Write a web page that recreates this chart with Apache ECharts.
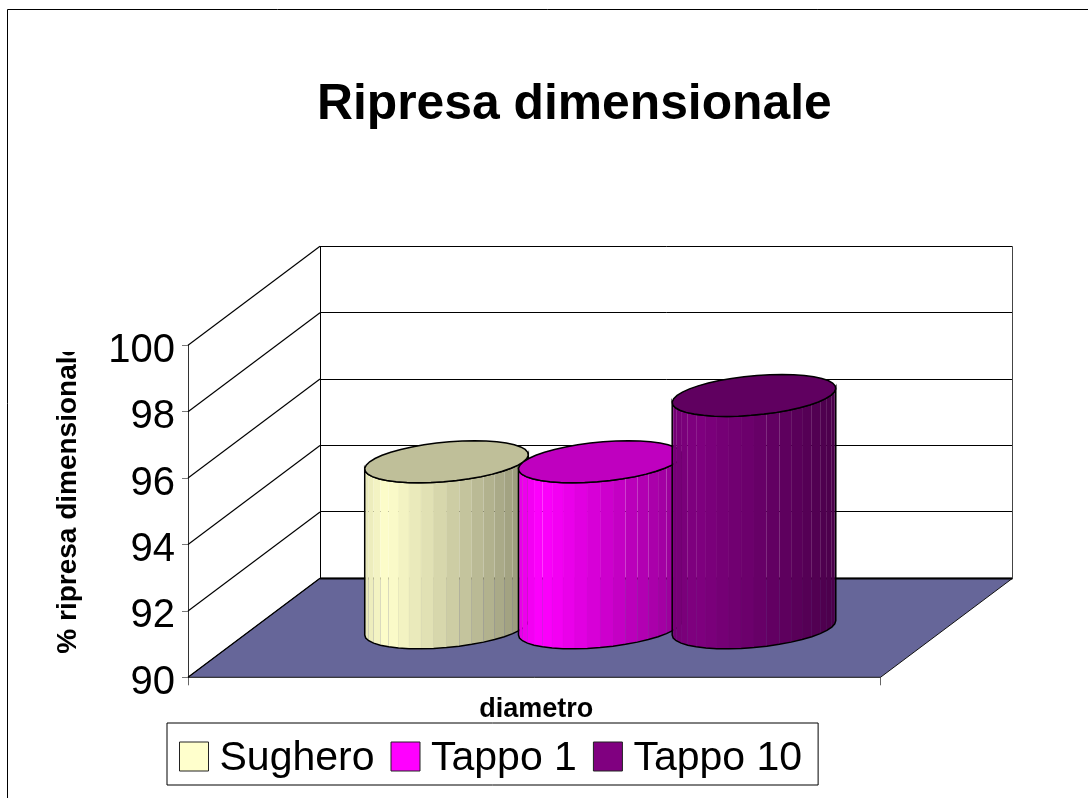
<!DOCTYPE html>
<html>
<head>
<meta charset="utf-8">
<style>
html, body { margin: 0; padding: 0; background: #fff; }
#main { width: 1088px; height: 798px; }
</style>
<script src="https://cdn.jsdelivr.net/npm/echarts@6/dist/echarts.min.js"></script>
</head>
<body>
<div id="main"></div>
<script>
const categories = [''];
const seriesNames = ['Sughero', 'Tappo 1', 'Tappo 10'];
const seriesValues = [95, 95, 97];
const seriesColors = ['#FFFFCC', '#FF00FF', '#800080'];
const yTicks = [90, 92, 94, 96, 98, 100];

// fake 3D: how far the back wall sits from the front plane
const depthX = 132;
const depthY = -99;

const FONT = '"Liberation Sans", Arial, sans-serif';

function shade(hex, f) {
    const n = parseInt(hex.slice(1), 16);
    const r = Math.round(((n >> 16) & 255) * f);
    const g = Math.round(((n >> 8) & 255) * f);
    const b = Math.round((n & 255) * f);
    return `rgb(${r},${g},${b})`;
}

// light falls from the left, a little past the edge
function facetLight(u) {
    if (u < 0.14) return 0.9 + 0.1 * (u / 0.14);
    return 1 - 0.42 * (u - 0.14) / 0.86;
}

function crisp(y) {
    return Math.floor(y) + 0.5;
}

function renderWalls(params, api) {
    const v = api.value(0);
    const p = api.coord([0, v]);
    const band = api.size([1, 0])[0];
    const x0 = p[0] - band / 2;
    const x1 = p[0] + band / 2;
    const y = p[1];
    const backY = crisp(y + depthY);
    const children = [];
    const line = (a, b, c, d, w, col) => ({
        type: 'line',
        shape: { x1: a, y1: b, x2: c, y2: d },
        style: { stroke: col || '#000', lineWidth: w || 1 }
    });

    if (v === yTicks[0]) {
        children.push({
            type: 'polygon',
            shape: { points: [[x0, y], [x1, y], [x1 + depthX, y + depthY], [x0 + depthX, y + depthY]] },
            style: { fill: '#666699', stroke: '#111', lineWidth: 1 }
        });
    }
    children.push(line(x0, y, x0 + depthX, y + depthY, 1.2));
    children.push(line(x0 + depthX, backY, x1 + depthX, backY, v === yTicks[0] ? 2 : 1));
    if (v === yTicks[yTicks.length - 1]) {
        const bottom = api.coord([0, yTicks[0]])[1] + depthY;
        children.push(line(crisp(x0 + depthX), backY, crisp(x0 + depthX), bottom));
        children.push(line(crisp(x1 + depthX), backY, crisp(x1 + depthX), bottom, 1, '#444'));
    }
    return { type: 'group', children: children };
}

function renderCylinder(idx) {
    return function (params, api) {
        const band = api.size([1, 0])[0];
        const top = api.coord([0, api.value(1)]);
        const base = api.coord([0, yTicks[0]]);
        const cx = top[0] + depthX / 2 + (idx - 1) * band * 0.222;
        const yTop = top[1] + depthY / 2;
        const yBase = base[1] + depthY / 2;
        const rx = band * 0.111;
        const skew = depthX * 0.212;
        const ry = -depthY * 0.212;
        const color = seriesColors[idx];

        const pt = (deg, yc) => {
            const t = deg * Math.PI / 180;
            return [cx + rx * Math.cos(t) + skew * Math.sin(t), yc - ry * Math.sin(t)];
        };

        const startDeg = 200;
        const step = 9;
        const width = Math.sqrt(rx * rx + skew * skew);
        const children = [];
        const lower = [];
        const upper = [];
        for (let d = startDeg; d <= startDeg + 180; d += step) {
            lower.push(pt(d, yBase));
            upper.push(pt(d, yTop));
        }
        for (let i = 0; i < lower.length - 1; i++) {
            const mid = (lower[i][0] + lower[i + 1][0]) / 2;
            const u = (mid - (cx - width)) / (2 * width);
            const fill = shade(color, facetLight(u));
            // the middle of the body shows no seams in the original
            const smooth = u > 0.18 && u < 0.48;
            children.push({
                type: 'polygon',
                shape: { points: [upper[i], upper[i + 1], lower[i + 1], lower[i]] },
                style: { fill: fill, stroke: smooth ? fill : null, lineWidth: smooth ? 0.7 : 0 }
            });
        }
        children.push({
            type: 'polygon',
            shape: { points: lower.concat(upper.slice().reverse()) },
            style: { fill: 'none', stroke: '#000', lineWidth: 1.5 }
        });
        const rim = [];
        for (let d = 0; d < 360; d += step) rim.push(pt(d, yTop));
        children.push({
            type: 'polygon',
            shape: { points: rim },
            style: { fill: shade(color, 0.75), stroke: '#000', lineWidth: 1.5 }
        });
        return { type: 'group', children: children };
    };
}

const series = [{
    name: 'walls',
    type: 'custom',
    silent: true,
    z: 1,
    renderItem: renderWalls,
    encode: { y: 0 },
    data: yTicks.map(v => [v])
}];

seriesNames.forEach((name, i) => {
    series.push({
        name: name,
        type: 'custom',
        z: 2 + i,
        itemStyle: { color: seriesColors[i] },
        renderItem: renderCylinder(i),
        encode: { x: 0, y: 1 },
        data: [[0, seriesValues[i]]]
    });
});

const chart = echarts.init(document.getElementById('main'));
chart.setOption({
    animation: false,
    backgroundColor: '#fff',
    title: {
        text: 'Ripresa dimensionale',
        left: 317,
        top: 80,
        padding: 0,
        textStyle: { fontFamily: FONT, fontSize: 49.8, fontWeight: 'bold', color: '#000' }
    },
    legend: {
        data: seriesNames,
        left: 167,
        top: 723,
        padding: [11, 16, 6, 12],
        itemWidth: 29,
        itemHeight: 29,
        itemGap: 16,
        icon: 'rect',
        borderColor: '#000',
        borderWidth: 1,
        selectedMode: false,
        itemStyle: { borderColor: '#222', borderWidth: 1 },
        formatter: '{n|{name}}',
        textStyle: {
            rich: {
                n: { fontFamily: FONT, fontSize: 41, color: '#000', lineHeight: 29, padding: [4, 0, 0, 6] }
            }
        }
    },
    grid: { left: 188, top: 345.3, width: 692.5, height: 332 },
    xAxis: {
        type: 'category',
        data: categories,
        name: 'diametro',
        nameLocation: 'middle',
        nameGap: 19,
        nameTextStyle: { fontFamily: FONT, fontSize: 27, fontWeight: 'bold', color: '#000', padding: [0, 0, 0, 4] },
        axisLine: { show: false },
        axisTick: { show: true, length: 8, lineStyle: { color: '#666' } },
        axisLabel: { show: false },
        splitLine: { show: false }
    },
    yAxis: {
        type: 'value',
        min: 90,
        max: 100,
        interval: 2,
        name: '% ripresa dimensionale',
        nameLocation: 'middle',
        nameGap: 106,
        nameRotate: 90,
        nameTextStyle: { fontFamily: FONT, fontSize: 28, fontWeight: 'bold', color: '#000', padding: [0, 0, 0, 28] },
        axisLine: { show: true, lineStyle: { color: '#333', width: 1 } },
        axisTick: { show: true, length: 6, lineStyle: { color: '#777', width: 1 } },
        axisLabel: { margin: 13, fontFamily: FONT, fontSize: 40, color: '#000', verticalAlign: 'top', lineHeight: 11 },
        splitLine: { show: false }
    },
    graphic: [{
        // outer chart border, right and bottom edges fall outside the picture
        type: 'polyline',
        z: 10,
        shape: { points: [[7.5, 798], [7.5, 9.5], [1088, 9.5]] },
        style: { fill: 'none', stroke: '#000', lineWidth: 1 }
    }, {
        // the axis title is cut off at the top of its box in the original
        type: 'rect',
        z: 10,
        shape: { x: 45, y: 330, width: 40, height: 22 },
        style: { fill: '#fff' }
    }],
    series: series
});
</script>
</body>
</html>
